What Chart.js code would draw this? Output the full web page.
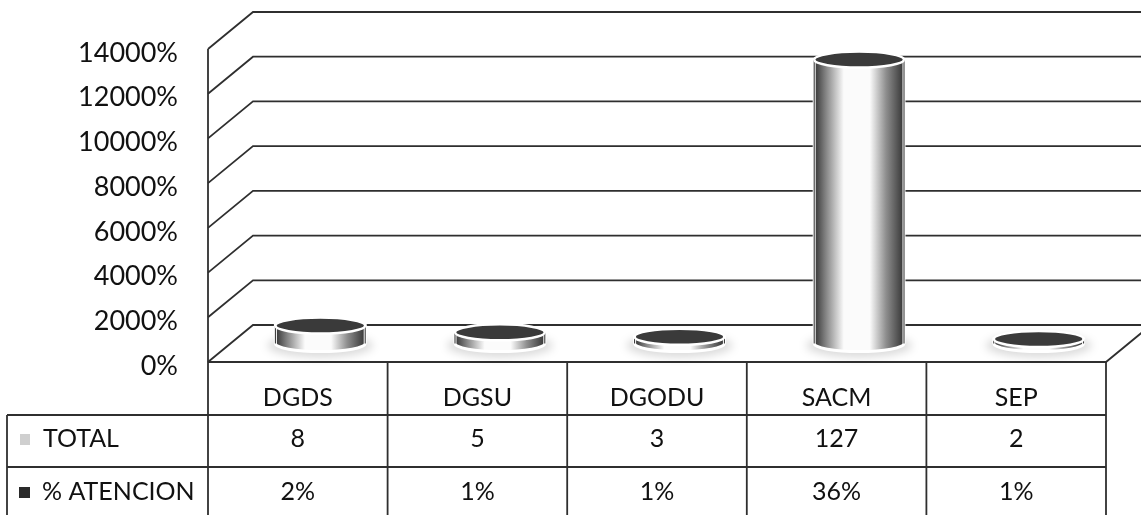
<!DOCTYPE html>
<html>
<head>
<meta charset="utf-8">
<script src="https://cdn.jsdelivr.net/npm/chart.js@4.4.1/dist/chart.umd.min.js"></script>
<style>
  html, body { margin: 0; padding: 0; background: #fff; }
  #wrap { width: 1141px; height: 515px; }
</style>
</head>
<body>
<div id="wrap"><canvas id="chart" width="1141" height="515"></canvas></div>
<script>
// Data
const categories = ['DGDS', 'DGSU', 'DGODU', 'SACM', 'SEP'];
const totals = [8, 5, 3, 127, 2];
const atencion = ['2%', '1%', '1%', '36%', '1%'];
const yTickLabels = ['0%', '2000%', '4000%', '6000%', '8000%', '10000%', '12000%', '14000%'];

// 3D look: depth of the box (back wall offset from front plane)
const DEPTH_X = 45;
const DEPTH_Y = -37;
const FONT = 'Lato, "Open Sans", sans-serif';
const LINE = '#2f2f2f';
const TEXT = '#111';

// Back walls, side wall and floor
const wallsPlugin = {
  id: 'walls',
  beforeDatasetsDraw(chart) {
    const { ctx, chartArea: a, scales: { y } } = chart;
    ctx.save();
    ctx.strokeStyle = LINE;
    ctx.lineWidth = 1.8;
    y.ticks.forEach(t => {
      const fy = y.getPixelForValue(t.value);
      ctx.beginPath();
      ctx.moveTo(a.left, fy);
      ctx.lineTo(a.left + DEPTH_X, fy + DEPTH_Y);
      ctx.lineTo(chart.width + 5, fy + DEPTH_Y);
      ctx.stroke();
    });
    // left vertical edge
    ctx.beginPath();
    ctx.moveTo(a.left, y.getPixelForValue(y.max));
    ctx.lineTo(a.left, a.bottom);
    ctx.stroke();
    // floor front edge and right side
    ctx.beginPath();
    ctx.moveTo(a.left, a.bottom);
    ctx.lineTo(a.right, a.bottom);
    ctx.lineTo(a.right + DEPTH_X, a.bottom + DEPTH_Y);
    ctx.stroke();
    ctx.restore();
  }
};

// Cylinders drawn from the bar elements
const cylinderPlugin = {
  id: 'cylinders',
  afterDatasetsDraw(chart) {
    const { ctx } = chart;
    const meta = chart.getDatasetMeta(0);
    meta.data.forEach(bar => {
      const cx = bar.x + DEPTH_X / 2;
      const top = bar.y + DEPTH_Y / 2;
      const bottom = bar.base + DEPTH_Y / 2;
      const rx = bar.width / 2;
      const ry = 8;
      ctx.save();
      // soft shadow at base
      ctx.fillStyle = 'rgba(0,0,0,0.14)';
      ctx.filter = 'blur(4px)';
      ctx.beginPath();
      ctx.ellipse(cx, bottom + 2, rx + 8, ry + 4, 0, 0, Math.PI * 2);
      ctx.fill();
      ctx.filter = 'none';
      // body
      const g = ctx.createLinearGradient(cx - rx, 0, cx + rx, 0);
      g.addColorStop(0, '#333');
      g.addColorStop(0.12, '#7e7e7e');
      g.addColorStop(0.33, '#fbfbfb');
      g.addColorStop(0.62, '#fbfbfb');
      g.addColorStop(0.8, '#8e8e8e');
      g.addColorStop(1, '#333');
      ctx.beginPath();
      ctx.moveTo(cx - rx, top);
      ctx.lineTo(cx - rx, bottom);
      ctx.ellipse(cx, bottom, rx, ry, 0, Math.PI, 0, true);
      ctx.lineTo(cx + rx, top);
      ctx.closePath();
      ctx.fillStyle = g;
      ctx.fill();
      ctx.strokeStyle = '#fff';
      ctx.lineWidth = 3;
      ctx.stroke();
      // body outline on dark sides
      ctx.strokeStyle = '#2a2a2a';
      ctx.lineWidth = 1;
      ctx.beginPath();
      ctx.moveTo(cx - rx, top);
      ctx.lineTo(cx - rx, bottom);
      ctx.moveTo(cx + rx, top);
      ctx.lineTo(cx + rx, bottom);
      ctx.stroke();
      // top cap
      ctx.beginPath();
      ctx.ellipse(cx, top, rx, ry, 0, 0, Math.PI * 2);
      ctx.fillStyle = '#3a3a3a';
      ctx.fill();
      ctx.strokeStyle = '#fff';
      ctx.lineWidth = 2.5;
      ctx.stroke();
      ctx.restore();
    });
  }
};

// Data table under the plot
const tablePlugin = {
  id: 'table',
  afterDraw(chart) {
    const { ctx, chartArea: a, scales: { x } } = chart;
    const rowTop = a.bottom;
    const row1 = 415, row2 = 467, rowEnd = chart.height + 2;
    const tableLeft = 7;
    ctx.save();
    ctx.strokeStyle = LINE;
    ctx.lineWidth = 1.8;
    ctx.beginPath();
    ctx.moveTo(tableLeft, row1); ctx.lineTo(a.right, row1);
    ctx.moveTo(tableLeft, row2); ctx.lineTo(a.right, row2);
    ctx.moveTo(tableLeft, row1); ctx.lineTo(tableLeft, rowEnd);
    const colW = (a.right - a.left) / categories.length;
    for (let i = 0; i <= categories.length; i++) {
      const cx = a.left + i * colW;
      ctx.moveTo(cx, rowTop); ctx.lineTo(cx, rowEnd);
    }
    ctx.stroke();

    ctx.fillStyle = TEXT;
    ctx.font = '25px ' + FONT;
    ctx.textAlign = 'center';
    ctx.textBaseline = 'middle';
    categories.forEach((c, i) => {
      const px = x.getPixelForValue(i);
      ctx.fillText(c, px, 398);
      ctx.fillText(String(totals[i]), px, 439);
      ctx.fillText(atencion[i], px, 492);
    });
    ctx.textAlign = 'left';
    ctx.fillText('TOTAL', 43, 439);
    ctx.fillText('% ATENCION', 42, 492);
    // legend keys
    ctx.fillStyle = '#cfcfcf';
    ctx.fillRect(20, 434, 10, 11);
    ctx.fillStyle = '#2a2a2a';
    ctx.fillRect(19, 487, 11, 11);
    ctx.restore();
  }
};

new Chart(document.getElementById('chart').getContext('2d'), {
  type: 'bar',
  data: {
    labels: categories,
    datasets: [{
      label: 'TOTAL',
      data: totals,
      backgroundColor: 'rgba(0,0,0,0)',
      borderWidth: 0,
      categoryPercentage: 1,
      barPercentage: 0.5
    }]
  },
  options: {
    responsive: false,
    animation: false,
    layout: { padding: { top: 49, bottom: 153, right: 35, left: 0 } },
    plugins: { legend: { display: false }, tooltip: { enabled: false } },
    scales: {
      x: { display: false, offset: true },
      y: {
        min: 0,
        max: 140,
        afterFit(scale) { scale.width = 208; },
        grid: { display: false, drawTicks: false },
        border: { display: false },
        ticks: {
          stepSize: 20,
          padding: 30,
          labelOffset: 4,
          color: TEXT,
          font: { family: FONT, size: 27 },
          callback: (v, i) => yTickLabels[i]
        }
      }
    }
  },
  plugins: [wallsPlugin, cylinderPlugin, tablePlugin]
});
</script>
</body>
</html>
